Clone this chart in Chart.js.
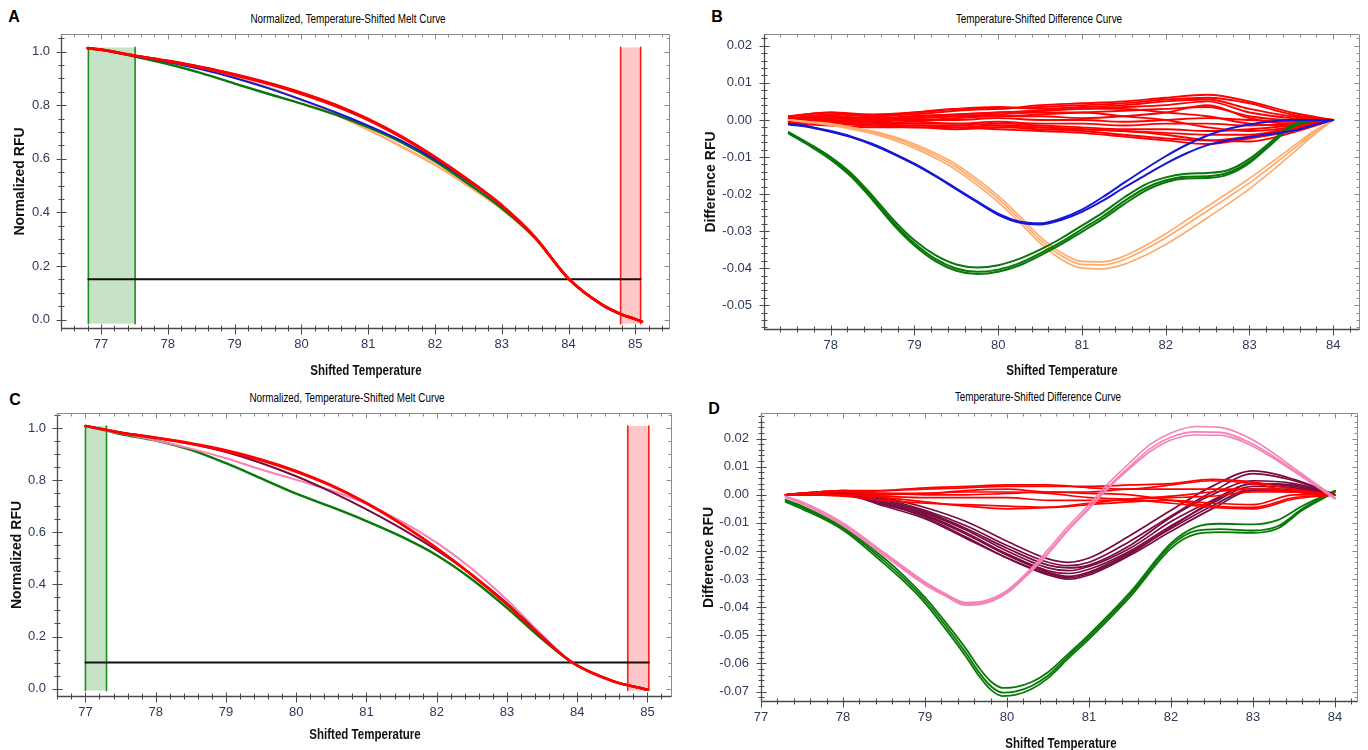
<!DOCTYPE html>
<html><head><meta charset="utf-8">
<script src="https://cdn.jsdelivr.net/npm/chart.js@4.4.1/dist/chart.umd.min.js"></script>
<style>
html,body{margin:0;padding:0;background:#fff;width:1368px;height:750px;overflow:hidden;position:relative}
canvas{position:absolute}
.lbl{position:absolute;font:bold 16px 'Liberation Sans',Arial,sans-serif;color:#000;transform:translate(-50%,-50%);line-height:1}
.ttl{position:absolute;font:12.5px 'Liberation Sans',Arial,sans-serif;color:#000;transform:translate(-50%,-50%) scaleX(0.79);white-space:nowrap;line-height:1}
.xt{position:absolute;font:bold 15px 'Liberation Sans',Arial,sans-serif;color:#111;transform:translate(-50%,-50%) scaleX(0.77);white-space:nowrap;line-height:1}
</style></head><body>
<div class="lbl" style="left:14px;top:17px">A</div>
<div class="lbl" style="left:717px;top:17px">B</div>
<div class="lbl" style="left:15px;top:400px">C</div>
<div class="lbl" style="left:714px;top:409px">D</div>
<div class="ttl" style="left:348px;top:19px">Normalized, Temperature-Shifted Melt Curve</div>
<div class="ttl" style="left:1039px;top:19px">Temperature-Shifted Difference Curve</div>
<div class="ttl" style="left:347px;top:398px">Normalized, Temperature-Shifted Melt Curve</div>
<div class="ttl" style="left:1038px;top:397px">Temperature-Shifted Difference Curve</div>
<canvas id="cA" width="684" height="380" style="left:0;top:0"></canvas>
<canvas id="cB" width="684" height="380" style="left:684px;top:0"></canvas>
<canvas id="cC" width="684" height="380" style="left:0;top:375px"></canvas>
<canvas id="cD" width="684" height="380" style="left:684px;top:375px"></canvas>
<div class="xt" style="left:366px;top:369px">Shifted Temperature</div>
<div class="xt" style="left:1062px;top:369px">Shifted Temperature</div>
<div class="xt" style="left:365px;top:733px">Shifted Temperature</div>
<div class="xt" style="left:1061px;top:742px">Shifted Temperature</div>
<script>
// ---------------- Panel A: normalized melt curve ----------------
const A_T = [76.8, 77, 77.5, 78, 78.5, 79, 79.5, 80, 80.5, 81, 81.5, 82, 82.5, 83, 83.5, 84, 84.5, 84.8, 85, 85.1];
const A_RED = [
  [1.014, 1.008, 0.986, 0.966, 0.943, 0.916, 0.884, 0.847, 0.803, 0.749, 0.684, 0.608, 0.522, 0.427, 0.307, 0.153, 0.056, 0.019, 0.002, -0.008],
  [1.013, 1.007, 0.985, 0.964, 0.940, 0.912, 0.880, 0.842, 0.798, 0.745, 0.680, 0.605, 0.520, 0.426, 0.307, 0.153, 0.056, 0.019, 0.002, -0.008],
  [1.013, 1.007, 0.985, 0.965, 0.942, 0.914, 0.882, 0.845, 0.801, 0.747, 0.682, 0.606, 0.521, 0.427, 0.307, 0.153, 0.056, 0.019, 0.002, -0.008]
];
const A_BLUE   = [1.013, 1.007, 0.984, 0.961, 0.934, 0.902, 0.864, 0.821, 0.775, 0.724, 0.667, 0.598, 0.517, 0.425, 0.307, 0.153, 0.056, 0.019, 0.002, -0.008];
const A_ORANGE = [1.013, 1.007, 0.985, 0.964, 0.937, 0.905, 0.866, 0.820, 0.767, 0.709, 0.646, 0.578, 0.499, 0.413, 0.302, 0.153, 0.056, 0.019, 0.002, -0.008];
const A_GREEN  = [1.013, 1.007, 0.982, 0.954, 0.920, 0.881, 0.843, 0.806, 0.766, 0.718, 0.661, 0.591, 0.507, 0.416, 0.305, 0.153, 0.056, 0.019, 0.002, -0.008];
const A_GREEN_BAND = [76.81, 77.51];
const A_RED_BAND = [84.78, 85.08];
const A_BAND_Y = [-0.015, 1.016];
const A_THRESHOLD = 0.151;
const A_XTICKS = [77, 78, 79, 80, 81, 82, 83, 84, 85];
const A_YTICKS = [0, 0.2, 0.4, 0.6, 0.8, 1.0];

// ---------------- Panel B: difference curve ----------------
const B_T = [77.5, 77.75, 78, 78.25, 78.5, 78.75, 79, 79.25, 79.5, 79.75, 80, 80.25, 80.5, 80.75, 81, 81.25, 81.5, 81.75, 82, 82.25, 82.5, 82.75, 83, 83.25, 83.5, 83.75, 84];
const B_GREEN = [
  [-0.0033, -0.0065, -0.010, -0.0145, -0.0205, -0.027, -0.0325, -0.0365, -0.039, -0.0398, -0.0392, -0.0375, -0.035, -0.032, -0.0285, -0.025, -0.021, -0.0175, -0.0155, -0.0145, -0.0143, -0.0135, -0.0105, -0.006, -0.0015, 0.0, 0.0],
  [-0.0035, -0.0068, -0.0104, -0.015, -0.0211, -0.0277, -0.0333, -0.0375, -0.0401, -0.041, -0.0404, -0.0387, -0.036, -0.033, -0.0295, -0.026, -0.022, -0.0185, -0.0163, -0.0153, -0.0152, -0.0142, -0.0112, -0.0065, -0.0018, -0.0002, 0.0],
  [-0.0037, -0.007, -0.0107, -0.0154, -0.0216, -0.0283, -0.0339, -0.0381, -0.0407, -0.0416, -0.041, -0.0393, -0.0366, -0.0336, -0.0302, -0.0267, -0.0228, -0.0192, -0.0168, -0.0158, -0.0157, -0.0147, -0.0116, -0.0068, -0.002, -0.0003, 0.0]
];
const B_BLUE = [
  [-0.001, -0.0018, -0.003, -0.0045, -0.0065, -0.009, -0.0118, -0.015, -0.0185, -0.022, -0.0253, -0.0274, -0.0279, -0.0266, -0.0242, -0.0208, -0.017, -0.0133, -0.0098, -0.0067, -0.0042, -0.0024, -0.0012, -0.0004, 0.0, 0.0, 0.0],
  [-0.0012, -0.002, -0.0032, -0.0047, -0.0067, -0.0092, -0.012, -0.0152, -0.0187, -0.0222, -0.0256, -0.0277, -0.0282, -0.027, -0.0248, -0.0218, -0.0183, -0.015, -0.0118, -0.009, -0.0068, -0.0055, -0.0046, -0.0038, -0.003, -0.0015, 0.0]
];
const B_ORANGE = [
  [0.0, -0.0005, -0.001, -0.002, -0.003, -0.0045, -0.0065, -0.009, -0.012, -0.016, -0.0205, -0.0258, -0.0315, -0.0358, -0.0382, -0.0383, -0.0368, -0.034, -0.0307, -0.027, -0.0233, -0.0196, -0.0158, -0.0117, -0.0075, -0.0033, 0.0],
  [0.0, -0.0006, -0.0012, -0.0022, -0.0033, -0.0049, -0.007, -0.0096, -0.0127, -0.0168, -0.0213, -0.0266, -0.0323, -0.0366, -0.039, -0.0391, -0.0377, -0.035, -0.0318, -0.0282, -0.0245, -0.0208, -0.017, -0.0127, -0.0083, -0.0038, 0.0],
  [0.0, -0.0007, -0.0014, -0.0025, -0.0037, -0.0054, -0.0076, -0.0103, -0.0135, -0.0176, -0.0222, -0.0275, -0.0332, -0.0376, -0.04, -0.0402, -0.039, -0.0366, -0.0336, -0.0301, -0.0264, -0.0226, -0.0186, -0.0141, -0.0093, -0.0044, 0.0]
];
const B_RT = [77.5, 78, 78.5, 79, 79.5, 80, 80.5, 81, 81.5, 82, 82.5, 83, 83.5, 84];
const B_RED = [
  [0.001, 0.002, 0.001, 0.002, 0.003, 0.003, 0.004, 0.0045, 0.005, 0.006, 0.0068, 0.005, 0.002, 0],
  [0.0005, 0.0015, 0.001, 0.0015, 0.0025, 0.003, 0.0035, 0.004, 0.0045, 0.0055, 0.006, 0.0045, 0.0015, 0],
  [0.001, 0.002, 0.0015, 0.002, 0.003, 0.0035, 0.003, 0.0035, 0.004, 0.005, 0.0055, 0.003, 0.001, 0],
  [0.0, 0.001, 0.0005, 0.001, 0.0015, 0.002, 0.0025, 0.003, 0.0035, 0.004, 0.005, 0.002, 0.0005, 0],
  [0.0005, 0.001, 0.0, 0.0005, 0.001, 0.001, 0.0015, 0.002, 0.0025, 0.003, 0.0035, 0.001, 0.0, 0],
  [0.0, 0.0005, 0.0, 0.0, 0.0005, 0.001, 0.001, 0.0005, 0.001, 0.002, 0.004, 0.0005, -0.001, 0],
  [-0.0005, 0.0, -0.0005, 0.0, 0.0, 0.0005, 0.0, 0.0, -0.0005, 0.0, 0.0005, 0.0, -0.0005, 0],
  [0.0, 0.0, -0.001, -0.0005, -0.001, -0.0005, -0.001, -0.001, -0.0015, -0.001, -0.001, -0.0015, -0.001, 0],
  [-0.001, -0.0005, -0.001, -0.0015, -0.0015, -0.001, -0.0015, -0.002, -0.0025, -0.0025, -0.003, -0.0025, -0.0015, 0],
  [-0.0005, -0.001, -0.0015, -0.002, -0.002, -0.0015, -0.002, -0.0025, -0.003, -0.0035, -0.004, -0.004, -0.002, 0],
  [-0.001, -0.0015, -0.002, -0.002, -0.0025, -0.002, -0.0025, -0.003, -0.004, -0.005, -0.0055, -0.0045, -0.0025, 0],
  [0.0, -0.0005, -0.0015, -0.0015, -0.002, -0.0025, -0.003, -0.0035, -0.0045, -0.0055, -0.0065, -0.005, -0.003, 0],
  [0.0005, 0.0005, -0.0005, -0.001, -0.001, -0.0015, -0.002, -0.0025, -0.003, -0.004, -0.0055, -0.0058, -0.0035, 0],
  [0.0, 0.001, 0.0005, 0.0005, 0.001, 0.0015, 0.002, 0.002, 0.001, 0.0, -0.002, -0.003, -0.002, 0],
  [-0.0005, 0.0005, 0.0, 0.001, 0.0015, 0.002, 0.0025, 0.003, 0.003, 0.002, 0.001, -0.001, -0.0015, 0]
];
const B_XTICKS = [78, 79, 80, 81, 82, 83, 84];
const B_YTICKS = [-0.05, -0.04, -0.03, -0.02, -0.01, 0, 0.01, 0.02];

// ---------------- Panel C: normalized melt curve ----------------
const C_T = [77.0, 77.3, 77.5, 78, 78.5, 79, 79.5, 80, 80.5, 81, 81.5, 82, 82.5, 83, 83.5, 83.93, 84.5, 85.0];
const C_RED = [
  [1.008, 0.993, 0.983, 0.963, 0.942, 0.915, 0.880, 0.836, 0.781, 0.713, 0.632, 0.540, 0.437, 0.323, 0.197, 0.100, 0.030, -0.004],
  [1.008, 0.992, 0.982, 0.961, 0.939, 0.911, 0.876, 0.832, 0.778, 0.711, 0.631, 0.539, 0.436, 0.323, 0.197, 0.100, 0.030, -0.004]
];
const C_MAROON = [1.008, 0.993, 0.983, 0.964, 0.940, 0.908, 0.866, 0.815, 0.755, 0.688, 0.614, 0.531, 0.437, 0.328, 0.200, 0.100, 0.030, -0.004];
const C_PINK   = [1.008, 0.991, 0.980, 0.952, 0.921, 0.884, 0.841, 0.801, 0.760, 0.709, 0.642, 0.560, 0.460, 0.341, 0.206, 0.100, 0.027, -0.004];
const C_GREEN  = [1.008, 0.990, 0.977, 0.952, 0.916, 0.865, 0.807, 0.748, 0.697, 0.643, 0.583, 0.512, 0.420, 0.310, 0.190, 0.100, 0.030, -0.004];
const C_GREEN_BAND = [77.0, 77.3];
const C_RED_BAND = [84.72, 85.02];
const C_BAND_Y = [-0.007, 1.008];
const C_THRESHOLD = 0.1;
const C_XTICKS = [77, 78, 79, 80, 81, 82, 83, 84, 85];
const C_YTICKS = [0, 0.2, 0.4, 0.6, 0.8, 1.0];

// ---------------- Panel D: difference curve ----------------
const D_GT = [77.3, 77.5, 78, 78.5, 78.75, 79, 79.25, 79.5, 79.65, 79.8, 79.95, 80.1, 80.3, 80.5, 80.75, 81, 81.5, 82, 82.3, 82.6, 83, 83.3, 83.6, 84];
const D_GREEN = [
  [-0.0018, -0.004, -0.0115, -0.0225, -0.029, -0.0365, -0.0453, -0.0548, -0.0612, -0.0663, -0.0687, -0.0684, -0.0666, -0.0631, -0.0565, -0.0497, -0.0347, -0.0172, -0.0115, -0.0103, -0.0105, -0.009, -0.004, 0.0015],
  [-0.002, -0.0045, -0.012, -0.0235, -0.030, -0.0375, -0.0465, -0.0563, -0.0628, -0.068, -0.0704, -0.070, -0.068, -0.0643, -0.0573, -0.0505, -0.0355, -0.018, -0.0128, -0.0122, -0.0127, -0.0112, -0.005, 0.0013],
  [-0.0025, -0.005, -0.0125, -0.0245, -0.031, -0.0385, -0.0477, -0.0576, -0.0641, -0.0693, -0.0716, -0.0712, -0.0691, -0.0652, -0.0581, -0.0513, -0.0363, -0.019, -0.014, -0.0133, -0.0135, -0.012, -0.0055, 0.001]
];
const D_PT = [77.3, 77.5, 78, 78.5, 79, 79.25, 79.5, 79.75, 80, 80.25, 80.5, 80.75, 81, 81.25, 81.5, 81.75, 82, 82.3, 82.6, 83, 83.5, 84];
const D_PINK = [
  [-0.0005, -0.0025, -0.010, -0.0205, -0.031, -0.0352, -0.0383, -0.0375, -0.034, -0.0275, -0.0195, -0.011, -0.0035, 0.0045, 0.0115, 0.018, 0.022, 0.0243, 0.024, 0.0195, 0.0095, -0.001],
  [-0.0008, -0.003, -0.0105, -0.021, -0.0315, -0.0357, -0.0388, -0.038, -0.0345, -0.028, -0.0205, -0.012, -0.0045, 0.0033, 0.0102, 0.0165, 0.0205, 0.0224, 0.0222, 0.018, 0.0088, -0.0012],
  [-0.001, -0.0032, -0.011, -0.0215, -0.032, -0.036, -0.0393, -0.0385, -0.035, -0.0285, -0.021, -0.0125, -0.005, 0.0028, 0.0095, 0.0155, 0.0195, 0.0213, 0.0212, 0.0172, 0.0083, -0.0015]
];
const D_MT = [77.3, 77.5, 78, 78.5, 79, 79.5, 80, 80.5, 80.75, 81, 81.5, 82, 82.5, 83, 83.5, 84];
const D_MAROON = [
  [0, 0.0005, 0.0015, -0.001, -0.0045, -0.0095, -0.0165, -0.0228, -0.024, -0.0225, -0.0145, -0.0055, 0.003, 0.0085, 0.0055, 0],
  [0, 0.0005, 0.001, -0.0015, -0.0055, -0.011, -0.018, -0.024, -0.0252, -0.024, -0.0165, -0.0075, 0.001, 0.0075, 0.005, 0],
  [0, 0.0005, 0.001, -0.002, -0.006, -0.012, -0.019, -0.025, -0.026, -0.025, -0.018, -0.008, 0.0, 0.005, 0.004, 0],
  [0, 0.0, 0.0005, -0.0025, -0.0065, -0.0125, -0.020, -0.026, -0.027, -0.0255, -0.019, -0.0095, -0.002, 0.004, 0.003, 0],
  [0, 0.0, 0.0005, -0.003, -0.007, -0.0135, -0.021, -0.027, -0.028, -0.0265, -0.020, -0.011, -0.003, 0.003, 0.0025, 0],
  [0, 0.0, 0.0, -0.0035, -0.0075, -0.014, -0.0215, -0.0275, -0.029, -0.0275, -0.0205, -0.012, -0.004, 0.002, 0.002, 0],
  [0, 0.0, 0.0, -0.004, -0.0085, -0.0155, -0.0225, -0.0285, -0.030, -0.0285, -0.0215, -0.013, -0.005, 0.0015, 0.001, 0],
  [0, 0.0005, 0.0, -0.003, -0.008, -0.015, -0.0225, -0.028, -0.0295, -0.028, -0.021, -0.0115, -0.0025, 0.004, 0.0035, 0]
];
const D_RT = [77.3, 77.5, 78, 78.5, 79, 79.5, 80, 80.5, 81, 81.5, 82, 82.5, 83, 83.5, 84];
const D_RED = [
  [0, 0.0005, 0.001, 0.0015, 0.0025, 0.003, 0.0035, 0.0035, 0.0025, 0.002, 0.0035, 0.005, 0.004, 0.001, 0],
  [0, 0.0005, 0.0015, 0.0015, 0.002, 0.0025, 0.003, 0.003, 0.003, 0.0035, 0.004, 0.0055, 0.0045, 0.002, 0],
  [0, 0.0005, 0.001, 0.0, 0.0005, 0.001, 0.001, 0.0005, -0.001, -0.0015, -0.001, -0.0005, 0.001, 0.001, 0],
  [0, 0.0, 0.0, -0.001, -0.0025, -0.004, -0.005, -0.0045, -0.003, -0.0015, -0.0005, 0.001, 0.002, 0.001, 0],
  [0, 0.0, -0.0005, -0.002, -0.003, -0.0035, -0.004, -0.0045, -0.0035, -0.0025, -0.002, -0.003, -0.0035, 0.0, 0],
  [0, 0.0005, 0.0015, 0.0005, 0.0005, 0.0015, 0.002, 0.001, 0.001, 0.002, 0.002, 0.002, 0.002, 0.0015, 0],
  [0, 0.0, 0.0, -0.0005, -0.001, -0.001, -0.001, -0.002, -0.002, -0.002, -0.003, -0.0045, -0.005, -0.0015, 0],
  [0, 0.0, 0.001, 0.0005, 0.0, 0.0, 0.0005, 0.001, 0.0005, 0.0, -0.002, -0.004, -0.0045, -0.001, 0]
];
const D_XTICKS = [77, 78, 79, 80, 81, 82, 83, 84];
const D_YTICKS = [-0.07, -0.06, -0.05, -0.04, -0.03, -0.02, -0.01, 0, 0.01, 0.02];

// ---------------- styling ----------------
const RED = '#ff0000', GREEN = '#087808', BLUE = '#1616d6', ORANGE = '#ffab6e', MAROON = '#7a0b3f', PINK = '#f681b6';
const TICK_FONT = {family: "'Liberation Sans',Arial,sans-serif", size: 13};
const TICK_COLOR = '#2d3b57';
const AXIS_TITLE_FONT_Y = {family: "'Liberation Sans',Arial,sans-serif", size: 14, weight: 'bold'};

function series(xs, ys) { return ys.map((y, i) => ({x: xs[i], y: y})); }
function line(xs, ys, color, w) {
  return {data: series(xs, ys), borderColor: color, borderWidth: w, fill: false, pointRadius: 0, cubicInterpolationMode: 'monotone'};
}
function bandFill(xr, yr, color) {
  return {data: [{x: xr[0], y: yr[0]}, {x: xr[0], y: yr[1]}, {x: xr[1], y: yr[1]}, {x: xr[1], y: yr[0]}],
    borderWidth: 0, borderColor: 'rgba(0,0,0,0)', backgroundColor: color, fill: {value: yr[0]}, tension: 0, pointRadius: 0};
}
function bandEdges(xr, yr, color) {
  return {data: [{x: xr[0], y: yr[0]}, {x: xr[0], y: yr[1]}, {x: (xr[0] + xr[1]) / 2, y: null}, {x: xr[1], y: yr[1]}, {x: xr[1], y: yr[0]}],
    borderWidth: 1.6, borderColor: color, fill: false, tension: 0, spanGaps: false, pointRadius: 0};
}
function hline(xr, yv) {
  return {data: [{x: xr[0], y: yv}, {x: xr[1], y: yv}], borderColor: '#111', borderWidth: 2, tension: 0, fill: false, pointRadius: 0};
}
function fmt(v, d) { if (Math.abs(v) < 1e-9) v = 0; return v.toFixed(d); }

const frameTicks = {
  id: 'frameTicks',
  afterDraw(chart, args, o) {
    const {ctx, chartArea: a, scales: {x, y}} = chart;
    const L = Math.round(a.left) + 0.5, R = Math.round(a.right) - 0.5, T = Math.round(a.top) + 0.5, B = Math.round(a.bottom) - 0.5;
    ctx.save();
    ctx.lineWidth = 1;
    ctx.strokeStyle = '#8c8c8c';
    ctx.beginPath(); ctx.moveTo(L, T); ctx.lineTo(R, T); ctx.lineTo(R, B); ctx.stroke();
    ctx.strokeStyle = '#4a4a4a';
    ctx.lineWidth = 1.3;
    ctx.beginPath(); ctx.moveTo(L, T); ctx.lineTo(L, B); ctx.lineTo(R, B); ctx.stroke();
    function each(scale, minor, major, cb) {
      const k0 = Math.ceil(scale.min / minor - 1e-6), k1 = Math.floor(scale.max / minor + 1e-6);
      for (let k = k0; k <= k1; k++) {
        const v = k * minor;
        const r = v / major;
        const isMajor = Math.abs(r - Math.round(r)) < 1e-6;
        cb(Math.round(scale.getPixelForValue(v)) + 0.5, isMajor);
      }
    }
    ctx.lineWidth = 1;
    ctx.strokeStyle = '#4a4a4a';
    ctx.beginPath();
    each(x, o.xMinor, o.xMajor, (px, M) => {
      if (px < a.left - 1 || px > a.right + 1) return;
      if (M) { ctx.moveTo(px, B - 4); ctx.lineTo(px, B + 6); } else { ctx.moveTo(px, B - 3); ctx.lineTo(px, B + 3); }
    });
    each(y, o.yMinor, o.yMajor, (py, M) => {
      if (py < a.top - 1 || py > a.bottom + 1) return;
      if (M) { ctx.moveTo(L - 5, py); ctx.lineTo(L + 5, py); } else { ctx.moveTo(L - 3, py); ctx.lineTo(L + 3, py); }
    });
    ctx.stroke();
    ctx.strokeStyle = '#8c8c8c';
    ctx.beginPath();
    each(x, o.xMinor, o.xMajor, (px, M) => {
      if (px < a.left - 1 || px > a.right + 1) return;
      ctx.moveTo(px, T); ctx.lineTo(px, T + (M ? 5 : 3));
    });
    each(y, o.yMinor, o.yMajor, (py, M) => {
      if (py < a.top - 1 || py > a.bottom + 1) return;
      ctx.moveTo(R, py); ctx.lineTo(R - (M ? 5 : 3), py);
    });
    ctx.stroke();
    ctx.restore();
  }
};

function build(id, P) {
  return new Chart(document.getElementById(id), {
    type: 'line',
    data: {datasets: P.datasets},
    options: {
      responsive: false, animation: false, devicePixelRatio: 1, events: [],
      layout: {padding: {left: 0, top: P.padTop, right: P.padRight, bottom: 0}},
      elements: {point: {radius: 0}, line: {borderCapStyle: 'round', borderJoinStyle: 'round'}},
      plugins: {legend: {display: false}, tooltip: {enabled: false}, title: {display: false}, frameTicks: P.minor},
      scales: {
        x: {type: 'linear', min: P.xRange[0], max: P.xRange[1],
          afterFit: s => { s.height = P.xHeight; },
          afterBuildTicks: s => { s.ticks = P.xTicks.map(v => ({value: v})); },
          grid: {display: false, drawTicks: false}, border: {display: false},
          ticks: {autoSkip: false, maxRotation: 0, minRotation: 0, padding: P.xTickPad, font: TICK_FONT, color: TICK_COLOR, callback: v => fmt(v, 0)},
          title: {display: false}},
        y: {type: 'linear', min: P.yRange[0], max: P.yRange[1],
          afterFit: s => { s.width = P.yWidth; },
          afterBuildTicks: s => { s.ticks = P.yTicks.map(v => ({value: v})); },
          grid: {display: false, drawTicks: false}, border: {display: false},
          ticks: {autoSkip: false, padding: P.yTickPad, font: TICK_FONT, color: TICK_COLOR, callback: v => fmt(v, P.yDec)},
          title: {display: true, text: P.yTitle, font: AXIS_TITLE_FONT_Y, color: '#111', padding: {top: P.yTitlePad, bottom: 0}}}
      }
    },
    plugins: [frameTicks]
  });
}

// Panel A
const dsA = [];
A_RED.forEach(r => dsA.push(line(A_T, r, RED, 2.5)));
dsA.push(line(A_T, A_BLUE, BLUE, 2));
dsA.push(line(A_T, A_GREEN, GREEN, 2.4));
dsA.push(line(A_T, A_ORANGE, ORANGE, 2.6));
dsA.push(hline([A_GREEN_BAND[0], A_RED_BAND[1]], A_THRESHOLD));
dsA.push(bandEdges(A_GREEN_BAND, A_BAND_Y, '#1f8c1f'));
dsA.push(bandEdges(A_RED_BAND, A_BAND_Y, '#ff1a1a'));
dsA.push(bandFill(A_GREEN_BAND, A_BAND_Y, 'rgba(0,128,0,0.22)'));
dsA.push(bandFill(A_RED_BAND, A_BAND_Y, 'rgba(255,0,0,0.22)'));
build('cA', {datasets: dsA, xRange: [76.4, 85.52], yRange: [-0.035, 1.066], xTicks: A_XTICKS, yTicks: A_YTICKS, yDec: 1,
  padTop: 34, padRight: 14, yWidth: 61, xHeight: 51, xTickPad: 8, yTickPad: 11, yTitlePad: 12,
  yTitle: 'Normalized RFU', minor: {xMajor: 1, xMinor: 0.2, yMajor: 0.2, yMinor: 0.05}});

// Panel B
const dsB = [];
B_BLUE.forEach(r => dsB.push(line(B_T, r, BLUE, 2)));
B_GREEN.forEach(r => dsB.push(line(B_T, r, GREEN, 2)));
B_ORANGE.forEach(r => dsB.push(line(B_T, r, ORANGE, 1.7)));
B_RED.forEach(r => dsB.push(line(B_RT, r, RED, 1.9)));
build('cB', {datasets: dsB, xRange: [77.204, 84.32], yRange: [-0.0567, 0.0232], xTicks: B_XTICKS, yTicks: B_YTICKS, yDec: 2,
  padTop: 34, padRight: 8, yWidth: 80, xHeight: 50, xTickPad: 8, yTickPad: 12, yTitlePad: 19,
  yTitle: 'Difference RFU', minor: {xMajor: 1, xMinor: 0.2, yMajor: 0.01, yMinor: 0.002}});

// Panel C
const dsC = [];
C_RED.forEach(r => dsC.push(line(C_T, r, RED, 2.4)));
dsC.push(line(C_T, C_MAROON, MAROON, 2));
dsC.push(line(C_T, C_PINK, PINK, 2));
dsC.push(line(C_T, C_GREEN, GREEN, 2.4));
dsC.push(hline([C_GREEN_BAND[0], C_RED_BAND[1]], C_THRESHOLD));
dsC.push(bandEdges(C_GREEN_BAND, C_BAND_Y, '#1f8c1f'));
dsC.push(bandEdges(C_RED_BAND, C_BAND_Y, '#ff1a1a'));
dsC.push(bandFill(C_GREEN_BAND, C_BAND_Y, 'rgba(0,128,0,0.22)'));
dsC.push(bandFill(C_RED_BAND, C_BAND_Y, 'rgba(255,0,0,0.22)'));
build('cC', {datasets: dsC, xRange: [76.595, 85.35], yRange: [-0.032, 1.0576], xTicks: C_XTICKS, yTicks: C_YTICKS, yDec: 1,
  padTop: 38, padRight: 12, yWidth: 57, xHeight: 58, xTickPad: 8, yTickPad: 11, yTitlePad: 9,
  yTitle: 'Normalized RFU', minor: {xMajor: 1, xMinor: 0.2, yMajor: 0.2, yMinor: 0.05}});

// Panel D
const dsD = [];
D_PINK.forEach(r => dsD.push(line(D_PT, r, PINK, 1.6)));
D_RED.forEach(r => dsD.push(line(D_RT, r, RED, 1.7)));
D_MAROON.forEach(r => dsD.push(line(D_MT, r, MAROON, 1.7)));
D_GREEN.forEach(r => dsD.push(line(D_GT, r, GREEN, 1.8)));
build('cD', {datasets: dsD, xRange: [77.0, 84.28], yRange: [-0.0737, 0.0291], xTicks: D_XTICKS, yTicks: D_YTICKS, yDec: 2,
  padTop: 38, padRight: 10, yWidth: 77, xHeight: 53, xTickPad: 8, yTickPad: 12, yTitlePad: 17,
  yTitle: 'Difference RFU', minor: {xMajor: 1, xMinor: 0.2, yMajor: 0.01, yMinor: 0.002}});
</script>
</body></html>
